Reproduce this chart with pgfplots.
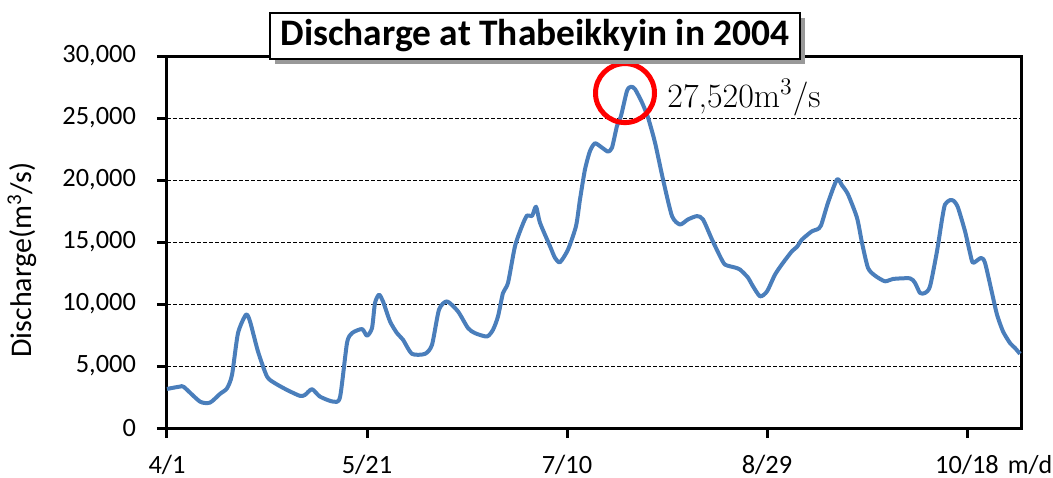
\documentclass[border=0pt]{standalone}
\usepackage{fontspec}
\setmainfont{Carlito}
\newfontfamily\lmr{Latin Modern Roman}
\usepackage{pgfplots}
\pgfplotsset{compat=1.18}
\usetikzlibrary{shadows}
\definecolor{lineblue}{HTML}{4A7EBB}

\pgfplotstableread{
day value
0 3150
3.25 3340
4.25 3300
8.25 2130
10.75 2050
13.25 2750
15 3200
16.25 4280
17.75 7650
19.75 9140
20.75 8600
22.75 6170
25 4150
27 3610
30 3070
33.25 2590
34.5 2670
36.25 3130
38.25 2530
41.5 2130
43.25 2480
45 6850
46.25 7650
48.75 7980
50 7440
51.25 8060
52 10080
53 10750
54 10210
55.75 8600
57.5 7650
59 7120
61.25 5980
64.5 5980
66.25 6710
68 9540
70 10210
72.75 9400
75.25 8060
77 7650
80 7380
81.5 7920
82.75 9000
84 10890
85.25 11700
87 14660
88.75 16280
90 17140
91.25 17090
92.25 17850
93.25 16550
95.75 14660
97 13720
98.25 13370
100.25 14390
102.25 16280
103.25 18440
104.5 20860
105.75 22340
107 22960
108.75 22610
110.25 22290
111.25 22610
112.5 24360
113.5 25170
115 27190
116 27520
117 27330
118.75 26250
120.25 25040
122 23020
124 20050
126.25 17090
128.25 16410
130.25 16820
132.5 17090
134 16820
136.25 15200
138.25 13850
139.5 13180
142 12940
143.25 12780
145.25 12130
146.25 11560
148.25 10620
150 11020
152 12370
154 13320
156.25 14260
157.5 14610
158.75 15200
161.25 15870
162.5 16010
163.5 16330
165.25 18170
167.5 20050
168.75 19570
170.25 18840
172.5 16950
173.75 14930
175.25 12910
177 12290
179.5 11830
181.5 12020
185.75 12070
187 11700
188.25 10890
189.5 10890
190.75 11420
192.5 14260
193.75 16820
194.5 18030
195.75 18380
196.75 18300
197.75 17770
199.5 15870
200.75 14120
201.5 13320
203.5 13720
204.5 13320
206.25 10890
207.5 9140
209 7790
210.75 6850
212 6450
213.25 5980
}\discharge

\begin{document}
\begin{tikzpicture}
\begin{axis}[
 at={(0,0)}, anchor=south west,
 scale only axis, width=427pt, height=186pt,
 xmin=0, xmax=213.5, ymin=0, ymax=30000,
 xtick={0,50,100,150,200}, xticklabels={4/1,5/21,7/10,8/29,10/18},
 ytick={0,5000,10000,15000,20000,25000,30000},
 scaled y ticks=false,
 /pgf/number format/1000 sep={,},
 /pgf/number format/assume math mode=true,
 yticklabel style={font=\fontsize{13.2}{14}\selectfont, xshift=-7pt},
 xticklabel style={font=\fontsize{13.2}{14}\selectfont, yshift=-5pt},
 tick align=outside, xtick pos=bottom, ytick pos=left,
 major tick length=5pt,
 tick style={black, line width=1.5pt},
 axis line style={line width=1.5pt},
 ymajorgrids, grid style={black, line width=0.5pt, dash pattern=on 2pt off 1pt},
 clip=false,
]
\addplot[lineblue, line width=2pt, smooth, tension=0.4, line join=round] table[x=day, y=value] {\discharge};
\addplot[only marks, mark=o, mark size=14.75pt, mark options={draw=red, line width=2.5pt}] coordinates {(114.5,27010)};
\node[anchor=west, inner sep=0pt, font=\lmr\fontsize{17}{17}\selectfont] at (axis cs:125,26684) {27,520m\textsuperscript{3}/s};
\end{axis}
\node[rotate=90, font=\fontsize{15}{15}\selectfont] at (-72.5pt,84pt) {Discharge(m\textsuperscript{3}/s)};
\node[font=\fontsize{13}{13}\selectfont] at (431.5pt,-18.5pt) {m/d};
\node[draw=black, line width=1pt, fill=white, drop shadow={shadow xshift=2.5pt, shadow yshift=-2.5pt, fill=gray!80, opacity=1}, minimum width=265pt, minimum height=23pt, font=\bfseries\fontsize{18.7}{19}\selectfont] at (184pt,196pt) {Discharge at Thabeikkyin in 2004};
\pgfresetboundingbox
\useasboundingbox (-83.5pt,-24.5pt) rectangle (443pt,214pt);
\end{tikzpicture}
\end{document}
